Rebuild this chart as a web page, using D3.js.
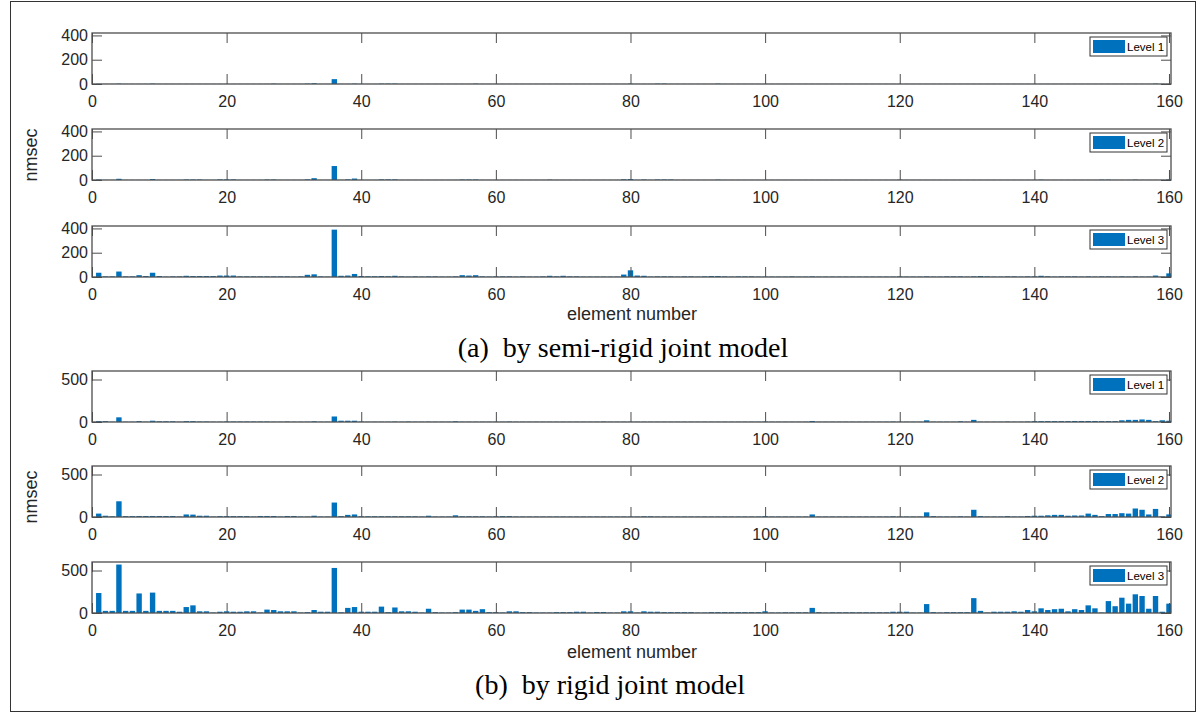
<!DOCTYPE html>
<html><head><meta charset="utf-8">
<script src="https://cdn.jsdelivr.net/npm/d3@7"></script>
<style>body{margin:0;background:#fff}svg{display:block}</style>
</head><body>
<svg id="c" width="1200" height="720"></svg>
<script>
const elements = d3.range(1, 161);
const xTicks = [0,20,40,60,80,100,120,140,160];
const yTicksA = [0,200,400];
const yTicksB = [0,500];
const levelNames = ["Level 1","Level 2","Level 3"];

const semiL1 = [
2,1,1,3,1,1,1,1,3,1,1,1,1,1,1,1,1,1,1,1,
1,1,1,1,1,1,3,1,1,1,1,3,6,1,1,40,1,1,3,1,
1,1,3,3,3,1,1,1,1,1,1,1,1,1,1,1,3,1,1,1,
1,1,1,1,1,1,1,1,1,1,1,1,1,1,1,1,1,1,1,3,
1,1,1,3,3,1,1,1,1,1,1,1,3,1,1,1,1,1,1,1,
1,1,1,1,1,1,1,1,1,1,1,1,1,1,1,1,1,1,1,1,
1,1,1,1,1,1,1,1,1,1,1,1,1,1,1,1,1,1,1,1,
1,1,1,1,1,1,1,1,1,1,1,1,1,1,1,1,1,3,1,1];
const semiL2 = [
4,1,1,10,1,1,1,1,8,1,1,1,1,4,4,4,1,1,5,5,
5,1,1,1,1,4,4,1,1,1,1,5,15,1,1,115,1,5,12,1,
1,1,5,5,5,1,1,1,1,1,1,1,1,1,4,4,4,1,1,1,
1,1,1,1,1,1,1,3,1,1,1,1,1,1,1,1,1,1,6,8,
1,4,1,4,4,4,1,1,1,1,1,1,3,1,1,1,1,1,1,1,
1,1,1,1,1,1,1,1,1,1,1,1,1,1,1,1,1,1,1,3,
1,1,1,1,1,1,1,1,1,1,1,1,1,1,1,1,1,1,1,1,
3,1,1,1,1,1,1,1,1,3,3,1,1,1,3,1,1,1,1,5];
const semiL3 = [
35,5,5,45,5,5,15,8,35,8,3,5,5,10,8,8,8,8,12,12,
12,5,5,5,5,5,5,5,5,3,5,18,22,5,3,390,10,12,25,8,
6,6,8,6,10,5,3,5,3,5,5,3,3,5,15,12,15,5,3,5,
5,5,3,5,3,3,5,10,5,10,5,5,3,3,3,3,3,3,20,55,
12,10,3,5,5,5,3,5,5,3,5,8,8,5,3,5,5,5,3,3,
3,3,3,5,3,3,5,3,3,3,3,3,3,3,3,3,3,3,3,5,
3,3,3,5,3,3,5,5,5,3,5,8,5,3,3,5,5,3,5,5,
10,6,3,5,5,5,3,5,3,5,5,3,5,3,5,3,3,12,3,30];
const rigidL1 = [
10,10,3,55,3,3,10,3,15,8,8,8,3,10,10,5,5,3,3,5,
5,5,5,5,5,5,3,3,5,3,3,3,8,3,3,65,15,15,15,5,
3,3,3,3,5,3,5,3,3,4,3,3,3,8,3,3,3,3,3,3,
3,5,3,3,3,3,3,3,3,3,3,3,3,3,3,5,3,3,3,3,
3,3,3,3,3,3,3,3,3,3,3,3,3,3,3,3,3,3,3,5,
3,3,3,3,3,3,12,3,3,3,3,3,3,3,3,3,3,3,5,3,
3,3,3,20,3,3,3,3,8,3,25,3,3,3,3,5,3,3,5,10,
10,10,10,10,10,12,12,12,12,10,10,10,20,25,25,30,25,10,20,15];
const rigidL2 = [
40,15,8,185,10,10,12,12,12,12,12,12,5,30,28,15,15,5,10,10,
10,10,10,5,12,12,12,5,12,12,5,5,15,5,5,170,10,25,30,8,
8,8,8,8,8,8,8,8,5,15,5,5,5,20,8,8,8,8,5,8,
10,10,5,5,5,5,5,5,5,5,5,5,5,5,5,5,5,5,5,5,
5,8,8,5,5,5,5,5,5,5,5,5,5,5,5,5,5,5,5,10,
5,5,5,5,5,5,30,5,5,5,5,5,5,5,5,5,5,5,8,5,
5,5,5,55,10,5,5,5,8,5,85,10,5,5,5,10,5,5,12,15,
15,20,25,25,15,18,18,40,25,10,35,35,45,40,100,85,30,95,8,30];
const rigidL3 = [
235,25,25,570,25,25,230,25,240,25,25,25,15,70,90,20,20,5,15,20,
15,15,20,20,5,40,35,20,20,20,5,10,35,15,15,530,8,60,70,15,
15,15,75,10,65,20,20,15,5,50,10,5,5,10,40,40,25,45,10,10,
5,20,20,10,10,5,5,5,10,10,10,15,15,5,12,12,5,5,20,20,
5,20,15,15,10,10,10,10,10,5,5,10,10,10,10,10,10,10,10,20,
5,5,8,8,8,8,60,10,5,8,8,8,8,8,8,8,8,8,15,15,
15,5,5,105,10,5,10,10,10,10,175,25,5,15,15,15,20,15,35,20,
55,35,45,50,20,45,35,90,55,5,140,80,180,110,220,200,50,200,15,110];

const svg = d3.select("#c");
const font = "Liberation Sans, Arial, sans-serif";
const axisColor = "#4d4d4d";
const barColor = "#0072BD";

// outer frame
svg.append("rect").attr("x",10.5).attr("y",1.5).attr("width",1185).attr("height",710)
  .attr("fill","none").attr("stroke","#333").attr("stroke-width",1);

const x = d3.scaleLinear().domain([0,160.3]).range([92,1171]);
const xl = x.range()[0], xr = x.range()[1];

const panels = [
  {data: semiL1, top:33, bottom:84, ymax:420, ticks:yTicksA, name:levelNames[0]},
  {data: semiL2, top:129, bottom:180, ymax:420, ticks:yTicksA, name:levelNames[1]},
  {data: semiL3, top:226, bottom:277, ymax:420, ticks:yTicksA, name:levelNames[2]},
  {data: rigidL1, top:371, bottom:422, ymax:600, ticks:yTicksB, name:levelNames[0]},
  {data: rigidL2, top:466, bottom:517, ymax:600, ticks:yTicksB, name:levelNames[1]},
  {data: rigidL3, top:562, bottom:613, ymax:600, ticks:yTicksB, name:levelNames[2]}
];

const tickLen = 10;
panels.forEach((p,i)=>{
  const y = d3.scaleLinear().domain([0,p.ymax]).range([p.bottom,p.top]);
  const g = svg.append("g");
  const cid = "clip"+i;
  svg.append("clipPath").attr("id",cid).append("rect")
    .attr("x",xl).attr("y",p.top).attr("width",xr-xl).attr("height",p.bottom-p.top);
  const bw = (x(1)-x(0))*0.8;
  g.append("g").attr("clip-path",`url(#${cid})`).selectAll("rect").data(p.data).join("rect")
    .attr("x",(d,k)=>x(elements[k])-bw/2).attr("width",bw)
    .attr("y",d=>y(d)).attr("height",d=>y(0)-y(d)).attr("fill",barColor);

  const axB = g.append("g").attr("transform",`translate(0,${p.bottom})`)
    .call(d3.axisBottom(x).tickValues(xTicks).tickSizeInner(-tickLen).tickSizeOuter(0).tickPadding(tickLen+2));
  const axT = g.append("g").attr("transform",`translate(0,${p.top})`)
    .call(d3.axisTop(x).tickValues(xTicks).tickSizeInner(-tickLen).tickSizeOuter(0).tickFormat(""));
  const axL = g.append("g").attr("transform",`translate(${xl},0)`)
    .call(d3.axisLeft(y).tickValues(p.ticks).tickSizeInner(-tickLen).tickSizeOuter(0).tickPadding(4));
  const axR = g.append("g").attr("transform",`translate(${xr},0)`)
    .call(d3.axisRight(y).tickValues(p.ticks).tickSizeInner(-tickLen).tickSizeOuter(0).tickFormat(""));
  [axB,axT,axL,axR].forEach(a=>{
    a.select(".domain").remove();
    a.selectAll("line").attr("stroke",axisColor);
    a.selectAll("text").attr("font-family",font).attr("font-size",16).attr("fill","#262626");
  });
  g.append("rect").attr("x",xl).attr("y",p.top).attr("width",xr-xl).attr("height",p.bottom-p.top)
    .attr("fill","none").attr("stroke",axisColor).attr("stroke-width",1.3);

  // legend
  const lw = 77, lh = 19;
  const lx = xr-4-lw, ly = p.top+4;
  const lg = g.append("g");
  lg.append("rect").attr("x",lx).attr("y",ly).attr("width",lw).attr("height",lh)
    .attr("fill","#fff").attr("stroke","#333").attr("stroke-width",1);
  lg.append("rect").attr("x",lx+3).attr("y",ly+3).attr("width",32).attr("height",lh-6).attr("fill",barColor);
  lg.append("text").attr("x",lx+37).attr("y",ly+lh/2+4.2).text(p.name)
    .attr("font-family",font).attr("font-size",11.5).attr("fill","#000");
});

// axis titles
svg.append("text").attr("transform","translate(37,155) rotate(-90)").attr("text-anchor","middle")
  .attr("font-family",font).attr("font-size",18).attr("fill","#262626").text("nmsec");
svg.append("text").attr("transform","translate(37,497) rotate(-90)").attr("text-anchor","middle")
  .attr("font-family",font).attr("font-size",18).attr("fill","#262626").text("nmsec");
svg.append("text").attr("x",632).attr("y",320).attr("text-anchor","middle")
  .attr("font-family",font).attr("font-size",18).attr("fill","#262626").text("element number");
svg.append("text").attr("x",632).attr("y",658).attr("text-anchor","middle")
  .attr("font-family",font).attr("font-size",18).attr("fill","#262626").text("element number");

// captions
svg.append("text").attr("x",623).attr("y",357).attr("text-anchor","middle")
  .attr("font-family","Liberation Serif, Times New Roman, serif").attr("font-size",28).attr("fill","#000")
  .attr("xml:space","preserve").text("(a)  by semi-rigid joint model");
svg.append("text").attr("x",610).attr("y",694).attr("text-anchor","middle")
  .attr("font-family","Liberation Serif, Times New Roman, serif").attr("font-size",28).attr("fill","#000")
  .attr("xml:space","preserve").text("(b)  by rigid joint model");
</script>
</body></html>
